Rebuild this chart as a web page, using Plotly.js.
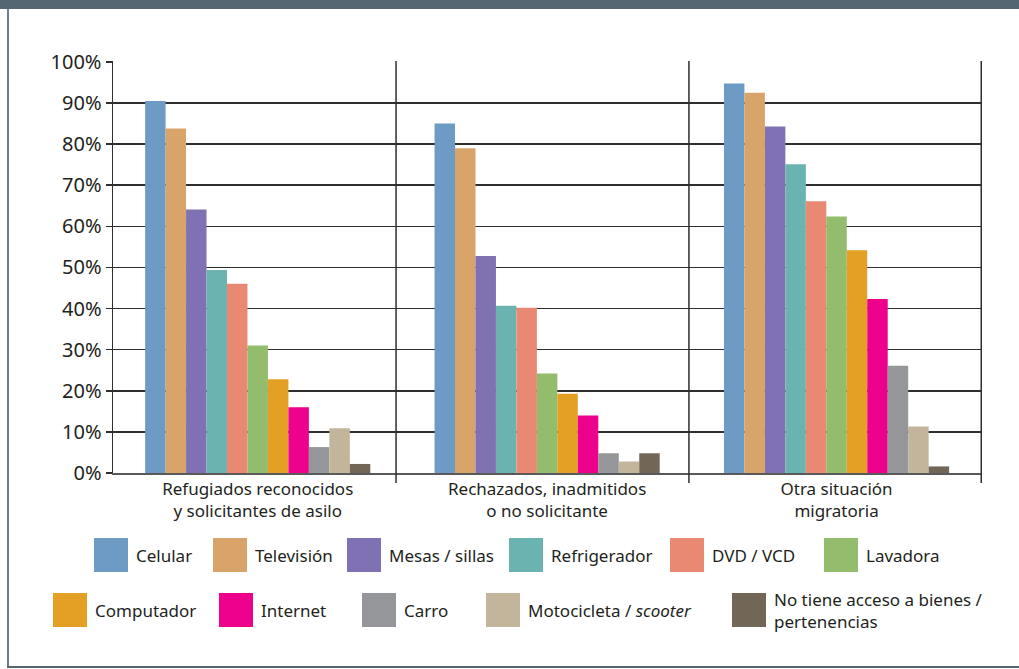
<!DOCTYPE html>
<html>
<head>
<meta charset="utf-8">
<script src="https://cdn.plot.ly/plotly-3.0.1.min.js"></script>
<style>
  html, body { margin: 0; padding: 0; background: #ffffff; }
  #chart { width: 1019px; height: 669px; }
</style>
</head>
<body>
<div id="chart"></div>
<script>
// Grupos de población (eje X)
const categories = [
  "Refugiados reconocidos<br>y solicitantes de asilo",
  "Rechazados, inadmitidos<br>o no solicitante",
  "Otra situación<br>migratoria"
];

// Bienes y pertenencias (series)
const seriesNames = [
  "Celular", "Televisión", "Mesas / sillas", "Refrigerador", "DVD / VCD",
  "Lavadora", "Computador", "Internet", "Carro", "Motocicleta / <i>scooter</i>",
  "No tiene acceso a bienes /<br>pertenencias"
];

// Porcentaje con acceso, por grupo (mismo orden que categories)
const celular      = [90.5, 85.0, 94.7];
const television   = [83.8, 79.0, 92.5];
const mesasSillas  = [64.1, 52.8, 84.3];
const refrigerador = [49.4, 40.7, 75.1];
const dvdVcd       = [46.0, 40.2, 66.1];
const lavadora     = [31.0, 24.2, 62.4];
const computador   = [22.8, 19.3, 54.2];
const internet     = [16.0, 14.0, 42.3];
const carro        = [6.3, 4.8, 26.1];
const motocicleta  = [10.9, 2.8, 11.3];
const noTiene      = [2.2, 4.8, 1.6];

const seriesValues = [
  celular, television, mesasSillas, refrigerador, dvdVcd,
  lavadora, computador, internet, carro, motocicleta, noTiene
];

const colors = [
  "#6d9bc5", "#d9a46a", "#8071b4", "#6bb3b0", "#e98873",
  "#93bd6d", "#e3a025", "#ec008c", "#95969a", "#c3b59c", "#726657"
];

const yTickVals = [0, 10, 20, 30, 40, 50, 60, 70, 80, 90, 100];
const yTickText = yTickVals.map(v => v + "%");

// Page geometry (pixels)
const W = 1019, H = 669;
const M = { l: 113, r: 37, t: 61, b: 196 };
const plotW = W - M.l - M.r, plotH = H - M.t - M.b;
const px = x => (x - M.l) / plotW;
const py = y => (H - M.b - y) / plotH;

const FONT = "Noto Sans, Open Sans, sans-serif";
const TEXT = "#231f20";
const RULE = "#2e2e2e";

const traces = seriesNames.map((name, i) => ({
  type: "bar",
  name: name,
  x: categories,
  y: seriesValues[i],
  marker: { color: colors[i], line: { width: 0 } },
  showlegend: false,
  hoverinfo: "name+y"
}));

// Legend layout: swatch left edge and row for each entry
const legendSlots = [
  { x: 94, row: 0 }, { x: 213, row: 0 }, { x: 347, row: 0 }, { x: 509, row: 0 },
  { x: 670, row: 0 }, { x: 824, row: 0 },
  { x: 53, row: 1 }, { x: 219, row: 1 }, { x: 362, row: 1 }, { x: 486, row: 1 },
  { x: 732, row: 1 }
];
const rowTop = [538, 593];
const SW = 34;

const shapes = [];
const annotations = [];

// Group separators (with a short tick below the baseline) and right edge
[0.478, 1.49, 2.5].forEach(xv => {
  shapes.push({
    type: "line", xref: "x", yref: "paper",
    x0: xv, x1: xv, y0: -10 / plotH, y1: 1,
    line: { color: RULE, width: 1.5 }
  });
});

legendSlots.forEach((s, i) => {
  const top = rowTop[s.row];
  shapes.push({
    type: "rect", xref: "paper", yref: "paper",
    x0: px(s.x), x1: px(s.x + SW), y0: py(top + SW), y1: py(top),
    fillcolor: colors[i], line: { width: 0 }
  });
  annotations.push({
    xref: "paper", yref: "paper",
    x: px(s.x + SW + 6), y: py(top + SW / 2),
    xanchor: "left", yanchor: "middle", align: "left",
    text: seriesNames[i], showarrow: false,
    font: { family: FONT, size: 17, color: TEXT }
  });
});

// Page frame: dark band on top, thin rules left and bottom
shapes.push({
  type: "rect", xref: "paper", yref: "paper", layer: "below",
  x0: px(0), x1: px(W), y0: py(9), y1: py(0),
  fillcolor: "#546672", line: { width: 0 }
});
shapes.push({
  type: "line", xref: "paper", yref: "paper",
  x0: px(8), x1: px(8), y0: py(667), y1: py(9),
  line: { color: "#6f7f89", width: 2 }
});
shapes.push({
  type: "line", xref: "paper", yref: "paper",
  x0: px(7), x1: px(W), y0: py(667), y1: py(667),
  line: { color: "#56666f", width: 2 }
});

const layout = {
  width: W, height: H,
  margin: M,
  paper_bgcolor: "#ffffff",
  plot_bgcolor: "#ffffff",
  barmode: "group",
  bargap: 0.222,
  bargroupgap: 0,
  font: { family: FONT, color: TEXT },
  xaxis: {
    type: "category",
    ticks: "",
    ticklen: 10,
    showgrid: false,
    showline: true,
    linecolor: "#5a5a5a",
    linewidth: 1.5,
    mirror: false,
    tickfont: { family: FONT, size: 17, color: TEXT },
    fixedrange: true
  },
  yaxis: {
    range: [0, 100.2],
    tickvals: yTickVals,
    ticktext: yTickText,
    ticks: "outside",
    ticklen: 6,
    tickwidth: 1.5,
    tickcolor: RULE,
    showgrid: true,
    gridcolor: RULE,
    gridwidth: 1.5,
    zeroline: false,
    showline: true,
    linecolor: RULE,
    linewidth: 1.5,
    tickfont: { family: FONT, size: 20, color: TEXT },
    fixedrange: true
  },
  shapes: shapes,
  annotations: annotations
};

Plotly.newPlot("chart", traces, layout, { displayModeBar: false, staticPlot: true });
</script>
</body>
</html>
